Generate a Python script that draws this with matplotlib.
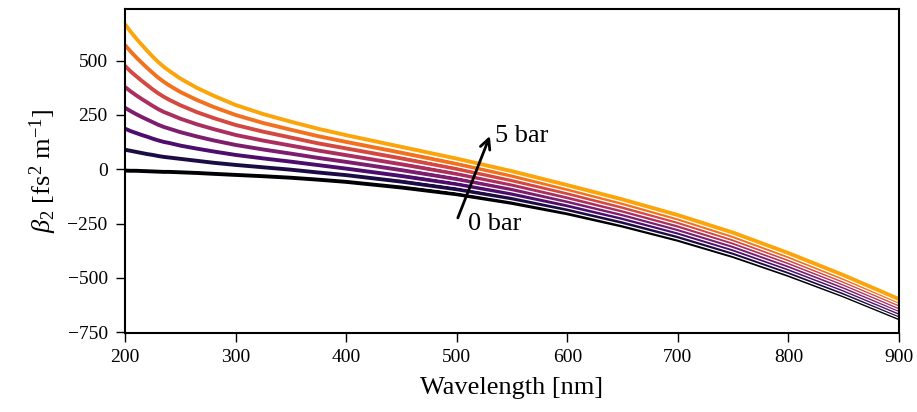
import numpy as np
import matplotlib
matplotlib.use("Agg")
import matplotlib.pyplot as plt
import matplotlib.patheffects as pe

plt.rcParams['font.family'] = ['Liberation Serif', 'DejaVu Serif']
plt.rcParams['mathtext.fontset'] = 'custom'
plt.rcParams['mathtext.rm'] = 'Liberation Serif'
plt.rcParams['mathtext.it'] = 'Liberation Serif:italic'

wavelength = [200, 205, 210, 215, 220, 225, 230, 235, 240, 250, 265, 280, 300, 325, 350, 375, 400,
              450, 500, 550, 600, 650, 700, 750, 800, 850, 900]

beta2_p0 = [-6, -7, -7, -8, -9, -10, -11, -12, -12, -14, -17, -21, -26, -32, -39, -48, -58,
            -84, -115, -155, -203, -260, -325, -400, -487, -582, -686]
beta2_p1 = [90, 85, 80, 75, 70, 66, 61, 57, 54, 48, 39, 30, 20, 9, -2, -15, -27,
            -57, -92, -134, -184, -243, -309, -385, -473, -569, -673]
beta2_p2 = [187, 176, 167, 158, 150, 141, 133, 126, 121, 109, 95, 82, 66, 50, 35, 19, 3,
            -31, -68, -113, -166, -225, -292, -369, -458, -555, -661]
beta2_p3 = [283, 268, 254, 241, 229, 217, 205, 195, 187, 171, 151, 133, 112, 91, 72, 52, 34,
            -4, -45, -92, -147, -208, -276, -354, -444, -542, -648]
beta2_p4 = [379, 359, 341, 324, 308, 292, 277, 264, 254, 233, 207, 185, 158, 132, 109, 86, 65,
            23, -21, -71, -129, -191, -260, -338, -429, -528, -636]
beta2_p5 = [476, 451, 429, 408, 388, 368, 350, 334, 320, 295, 263, 236, 204, 173, 146, 119, 96,
            50, 2, -51, -110, -174, -243, -323, -415, -515, -623]
beta2_p6 = [572, 543, 516, 491, 467, 444, 422, 403, 386, 356, 319, 287, 250, 213, 182, 152, 126,
            76, 25, -30, -91, -156, -227, -308, -401, -502, -610]
beta2_p7 = [668, 634, 603, 574, 546, 519, 494, 472, 453, 418, 375, 339, 296, 254, 219, 186, 157,
            103, 49, -9, -73, -139, -211, -292, -386, -488, -598]

series = [beta2_p0, beta2_p1, beta2_p2, beta2_p3, beta2_p4, beta2_p5, beta2_p6, beta2_p7]
yticks = [-750, -500, -250, 0, 250, 500]
xticks = [200, 300, 400, 500, 600, 700, 800, 900]

fig = plt.figure(figsize=(9.17, 4.12), dpi=100)
ax = fig.add_axes([125/917, 1-333/412, (899-125)/917, (333-9)/412])

cmap = plt.get_cmap('inferno')
cols = [cmap(v) for v in np.linspace(0, 0.8, len(series))]
for s, c in zip(series, cols):
    ax.plot(wavelength, s, color=c, lw=2.8, solid_capstyle='butt', solid_joinstyle='round',
            path_effects=[pe.Stroke(linewidth=4.6, foreground='white'), pe.Normal()])

ax.set_xlim(200, 900)
ax.set_ylim(-754, 738)
ax.set_xticks(xticks)
ax.set_yticks(yticks)
ax.set_yticklabels(['\u2212750', '\u2212500', '\u2212250', '0', '250', '500'])
ax.tick_params(direction='out', length=6.5, width=1.0, labelsize=14)
ax.tick_params(axis='y', pad=6)
ax.tick_params(axis='x', pad=5)
for sp in ax.spines.values():
    sp.set_linewidth(1.5)

ax.set_xlabel('Wavelength [nm]', fontsize=19, labelpad=8)
ax.set_ylabel(r'$\beta_2$ [fs$^2$ m$^{-1}$]', fontsize=19, labelpad=6)

ax.annotate('', xy=(530, 153), xytext=(501, -224),
            arrowprops=dict(arrowstyle='->', lw=2, color='black', mutation_scale=18,
                            shrinkA=0, shrinkB=0))
ax.text(535, 153, '5 bar', fontsize=19, ha='left', va='center')
ax.text(510, -252, '0 bar', fontsize=19, ha='left', va='center')

fig.savefig('out.png', dpi=100)
